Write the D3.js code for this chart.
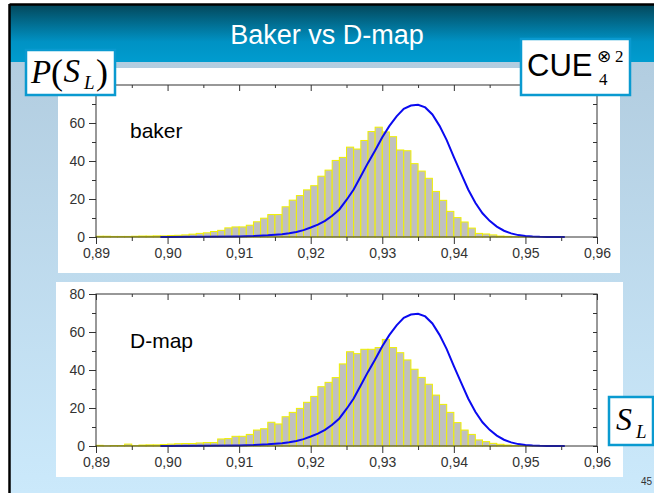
<!DOCTYPE html>
<html>
<head>
<meta charset="utf-8">
<script src="https://cdn.jsdelivr.net/npm/d3@7"></script>
<style>
  body { margin: 0; background: #fff; }
  svg { display: block; }
  .tick text { font-family: Arial, "Liberation Sans", sans-serif; font-size: 14px; fill: #333; }
  .tick line { stroke: #333; }
</style>
</head>
<body>
<svg id="chart" width="654" height="493"></svg>
<script>
// histogram bins, width 0.001, starting at 0.890
const binStart = 0.89;
const binWidth = 0.001;
const bakerBins = [
  0.4, 0.4, 0.3, 0.3, 0.3, 0.4, 0.5, 0.5, 0.6, 0.6,
  0.8, 0.9, 1.1, 1.5, 1.9, 2.2, 2.9, 3.5, 4.8, 5.3,
  5.3, 6.2, 8.0, 9.9, 11.8, 11.8, 15.9, 19.4, 21.8, 24.8,
  27.0, 32.0, 35.2, 40.3, 41.9, 47.3, 46.3, 50.8, 55.5, 57.8,
  55.3, 52.8, 45.8, 45.4, 38.6, 34.7, 30.9, 24.0, 19.3, 13.5,
  10.2, 7.9, 4.7, 1.9, 1.6, 1.1, 0.5, 0.35, 0.2, 0.15,
  0.1, 0.05
];
const dmapBins = [
  0.35, 0.1, 0.25, 0.25, 1.0, 0.2, 0.5, 0.6, 0.6, 0.8,
  1.0, 1.2, 1.3, 1.3, 1.6, 1.8, 1.8, 3.7, 3.9, 5.1,
  5.1, 6.1, 8.4, 9.1, 12.5, 11.6, 15.4, 17.7, 19.8, 23.0,
  26.1, 31.2, 33.5, 36.0, 43.2, 49.6, 48.6, 50.9, 50.9, 51.8,
  56.1, 51.8, 49.1, 45.3, 40.4, 36.1, 32.5, 26.8, 21.9, 17.7,
  12.3, 8.4, 6.1, 3.2, 2.3, 1.4, 0.9, 0.5, 0.25, 0.15,
  0.1, 0.05
];
// blue reference curve (same on both panels)
const curveX = [0.899, 0.900, 0.905, 0.910, 0.912, 0.914, 0.916, 0.917, 0.918, 0.919,
  0.920, 0.921, 0.922, 0.923, 0.924, 0.925, 0.926, 0.927, 0.928, 0.929,
  0.930, 0.931, 0.932, 0.933, 0.934, 0.935, 0.936, 0.937, 0.938, 0.939,
  0.940, 0.941, 0.942, 0.943, 0.944, 0.945, 0.946, 0.947, 0.948, 0.949,
  0.950, 0.951, 0.952, 0.953, 0.955, 0.9555];
const curveY = [0, 0.02, 0.1, 0.3, 0.5, 0.9, 1.5, 2.0, 2.6, 3.6,
  5.0, 6.5, 8.5, 11.2, 14.5, 19.5, 25.0, 32.0, 39.0, 45.5,
  52.5, 58.5, 63.5, 67.5, 69.2, 69.6, 68.2, 64.5, 58.5, 51.0,
  42.0, 33.5, 25.0, 18.0, 12.5, 8.5, 5.5, 3.3, 1.9, 1.0,
  0.5, 0.25, 0.1, 0.05, 0.0, 0];

const xMajor = [0.89, 0.90, 0.91, 0.92, 0.93, 0.94, 0.95, 0.96];
const xMinor = [0.895, 0.905, 0.915, 0.925, 0.935, 0.945, 0.955];
const yMajor = [0, 20, 40, 60, 80];
const yMinor = [10, 30, 50, 70];

const titleText = "Baker vs D-map";
const panelNames = ["baker", "D-map"];
const slideNumber = "45";

const svg = d3.select("#chart");
const defs = svg.append("defs");

const hg = defs.append("linearGradient").attr("id", "hdr").attr("x1", 0).attr("y1", 0).attr("x2", 0).attr("y2", 1);
hg.append("stop").attr("offset", "0").attr("stop-color", "#034659");
hg.append("stop").attr("offset", "0.65").attr("stop-color", "#0092c4");
hg.append("stop").attr("offset", "1").attr("stop-color", "#009ccf");

const bg = defs.append("linearGradient").attr("id", "body").attr("x1", 0).attr("y1", 0).attr("x2", 0).attr("y2", 1);
bg.append("stop").attr("offset", "0").attr("stop-color", "#b2cde0");
bg.append("stop").attr("offset", "1").attr("stop-color", "#cbe9fb");

// slide background
svg.append("rect").attr("x", 9).attr("y", 62).attr("width", 645).attr("height", 431).attr("fill", "url(#body)");
svg.append("rect").attr("x", 9).attr("y", 4).attr("width", 645).attr("height", 58).attr("fill", "url(#hdr)");
svg.append("line").attr("x1", 9.5).attr("y1", 4.5).attr("x2", 654).attr("y2", 4.5).attr("stroke", "#000").attr("stroke-width", 2.5);
svg.append("line").attr("x1", 9.5).attr("y1", 4).attr("x2", 9.5).attr("y2", 493).attr("stroke", "#000").attr("stroke-width", 2.5);

svg.append("text")
  .attr("x", 327).attr("y", 44)
  .attr("text-anchor", "middle")
  .attr("font-family", "Arial, 'Liberation Sans', sans-serif")
  .attr("font-size", 27)
  .attr("fill", "#fff")
  .text(titleText);

// white panels
svg.append("rect").attr("x", 58).attr("y", 68).attr("width", 562).attr("height", 205).attr("fill", "#fff");
svg.append("rect").attr("x", 56).attr("y", 282).attr("width", 567).attr("height", 195).attr("fill", "#fff");

const x = d3.scaleLinear().domain([0.89, 0.96]).range([96, 597]);
const fmt = d => d3.format(".2f")(d).replace(".", ",");

// hideTop: the top y label sits under the P(S_L) box on the upper panel
function drawPanel(bins, name, y0, labelY, hideTop) {
  const y = d3.scaleLinear().domain([0, 80]).range([y0, y0 - 152]);
  const g = svg.append("g");

  g.selectAll("rect.bar")
    .data(bins)
    .enter()
    .append("rect")
    .attr("class", "bar")
    .attr("x", (d, i) => x(binStart + i * binWidth))
    .attr("width", x(binStart + binWidth) - x(binStart))
    .attr("y", d => y(d))
    .attr("height", d => y(0) - y(d))
    .attr("fill", "#c0c0c0")
    .attr("stroke", "#f0f000")
    .attr("stroke-width", 1);

  const line = d3.line().x(d => x(d[0])).y(d => y(d[1]));
  g.append("path")
    .datum(d3.zip(curveX, curveY))
    .attr("d", line)
    .attr("fill", "none")
    .attr("stroke", "#0a0af0")
    .attr("stroke-width", 2);

  // axes
  const addAxis = (axis, tr) => {
    const a = g.append("g").attr("transform", tr).call(axis);
    a.select(".domain").remove();
    return a;
  };
  const yLabels = hideTop ? yMajor.filter(v => v < 80) : yMajor;
  addAxis(d3.axisBottom(x).tickValues(xMajor).tickFormat(fmt).tickSize(7).tickPadding(4), `translate(0,${y(0)})`);
  addAxis(d3.axisBottom(x).tickValues(xMinor).tickFormat("").tickSize(4), `translate(0,${y(0)})`);
  addAxis(d3.axisBottom(x).tickValues(xMajor).tickFormat("").tickSize(6), `translate(0,${y(80)})`);
  addAxis(d3.axisBottom(x).tickValues(xMinor).tickFormat("").tickSize(3), `translate(0,${y(80)})`);
  addAxis(d3.axisLeft(y).tickValues(yLabels).tickFormat(d3.format("d")).tickSize(7).tickPadding(4), `translate(${x(0.89)},0)`);
  addAxis(d3.axisLeft(y).tickValues(yMinor).tickFormat("").tickSize(4), `translate(${x(0.89)},0)`);
  addAxis(d3.axisLeft(y).tickValues(yMajor.concat(yMinor)).tickFormat("").tickSize(4), `translate(${x(0.96)},0)`);

  g.append("rect")
    .attr("x", x(0.89)).attr("y", y(80))
    .attr("width", x(0.96) - x(0.89)).attr("height", y(0) - y(80))
    .attr("fill", "none").attr("stroke", "#333").attr("stroke-width", 1);

  g.append("text")
    .attr("x", 130).attr("y", labelY)
    .attr("font-family", "Arial, 'Liberation Sans', sans-serif")
    .attr("font-size", 21)
    .attr("fill", "#000")
    .text(name);
}

drawPanel(bakerBins, panelNames[0], 237, 138, true);
drawPanel(dmapBins, panelNames[1], 446, 348, false);

// formula boxes: each formula is one text element made of positioned tspans
function box(bx, by, bw, bh) {
  svg.append("rect").attr("x", bx).attr("y", by).attr("width", bw).attr("height", bh)
    .attr("fill", "#fff").attr("stroke", "#0a9ad0").attr("stroke-width", 2.5);
}
function formula(parts) {
  const t = svg.append("text")
    .attr("font-family", "'Liberation Serif', 'Times New Roman', serif")
    .attr("fill", "#000");
  parts.forEach(p => {
    t.append("tspan")
      .attr("x", p.x).attr("y", p.y)
      .attr("font-size", p.size)
      .attr("font-style", p.italic ? "italic" : "normal")
      .attr("font-family", p.family || null)
      .text(p.s);
  });
}

box(26, 50, 89, 45);
formula([
  { s: "P", x: 31, y: 83, size: 33, italic: true },
  { s: "(", x: 51, y: 84, size: 36 },
  { s: "S", x: 63.5, y: 82, size: 33, italic: true },
  { s: "L", x: 84, y: 89, size: 19, italic: true },
  { s: ")", x: 96, y: 84, size: 36 }
]);

box(521, 39, 109, 56);
formula([
  { s: "CUE", x: 527, y: 76, size: 31, family: "Arial, 'Liberation Sans', sans-serif" },
  { s: "\u2297", x: 597, y: 62, size: 17, family: "'DejaVu Sans', sans-serif" },
  { s: "2", x: 615, y: 62, size: 17 },
  { s: "4", x: 599, y: 85, size: 17 }
]);

box(609, 397, 44, 48);
formula([
  { s: "S", x: 616, y: 430, size: 32, italic: true },
  { s: "L", x: 636, y: 438, size: 19, italic: true }
]);

svg.append("text").attr("x", 641).attr("y", 485)
  .attr("font-family", "Arial, 'Liberation Sans', sans-serif")
  .attr("font-size", 10).attr("fill", "#333").text(slideNumber);
</script>
</body>
</html>
